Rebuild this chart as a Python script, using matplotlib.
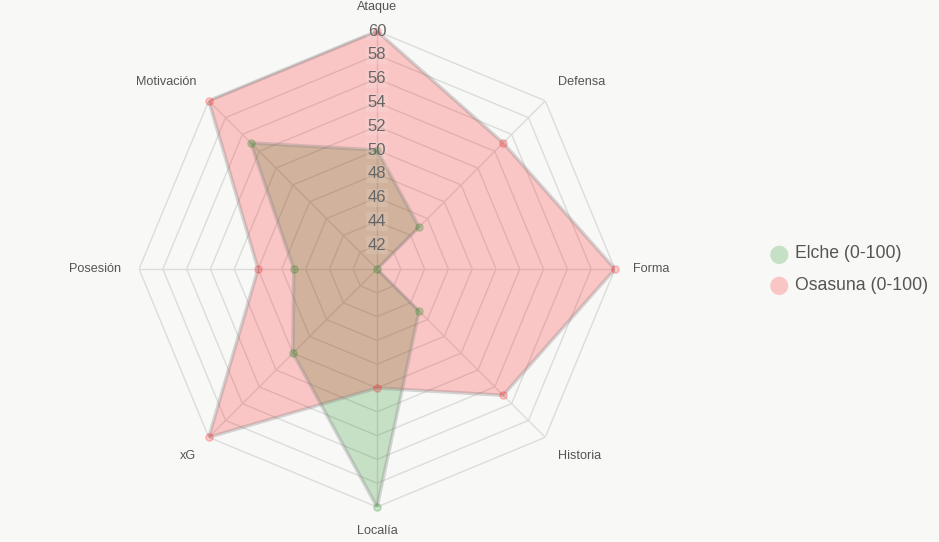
import numpy as np
import matplotlib.pyplot as plt

plt.rcParams['font.family'] = ['Liberation Sans', 'DejaVu Sans']

labels = ['Ataque', 'Defensa', 'Forma', 'Historia', 'Localía', 'xG', 'Posesión', 'Motivación']
elche = [50, 45, 40, 45, 60, 50, 47, 55]
osasuna = [60, 55, 60, 55, 50, 60, 50, 60]
ticks = [42, 44, 46, 48, 50, 52, 54, 56, 58, 60]
series_names = ['Elche (0-100)', 'Osasuna (0-100)']

bg = '#f8f8f7'
green = (0.0, 0.5, 0.0)
red = (1.0, 0.0, 0.0)

fig = plt.figure(figsize=(9.39, 5.42), dpi=100, facecolor=bg)
ax = fig.add_axes([0.148, 0.0646, 0.507, 0.878], projection='polar')
ax.set_facecolor(bg)
ax.set_theta_zero_location('N')
ax.set_theta_direction(-1)
ax.set_ylim(40, 60)
ax.set_xticks([])
ax.set_yticks([])
ax.grid(False)
ax.spines['polar'].set_visible(False)

n = len(labels)
angles = np.linspace(0, 2 * np.pi, n, endpoint=False)
ring_ang = np.append(angles, angles[0])

# octagon grid
for t in ticks:
    ax.plot(ring_ang, [t] * (n + 1), color='#dcdcdc', lw=1, zorder=1)
for a in angles:
    ax.plot([a, a], [40, 60], color='#dcdcdc', lw=1, zorder=1)

# series
for vals, col in [(elche, green), (osasuna, red)]:
    v = np.append(vals, vals[0])
    ax.fill(ring_ang, v, color=col, alpha=0.2, lw=0, zorder=2)
    ax.plot(ring_ang, v, color=(0.5, 0.5, 0.5, 0.3), lw=2.5, zorder=3)
    ax.scatter(angles, vals, s=28, color=col, alpha=0.2, zorder=4, clip_on=False)

# tick labels
for t in ticks:
    ax.text(0, t, str(t), ha='center', va='center', fontsize=12, color='#666666',
            zorder=5, bbox=dict(boxstyle='square,pad=0.1', fc=(1, 1, 1, 0.12), ec='none'))

# axis labels
for a, lab in zip(angles, labels):
    s, c = np.sin(a), np.cos(a)
    ha = 'center' if abs(s) < 0.1 else ('left' if s > 0 else 'right')
    va = 'center' if abs(c) < 0.1 else ('bottom' if c > 0 else 'top')
    ax.text(a, 61.5, lab, ha=ha, va=va, fontsize=9.1, color='#555555', clip_on=False)

# legend
for i, (name, col) in enumerate(zip(series_names, [green, red])):
    y = 1 - 254 / 542 - i * 31 / 542
    fig.text(779 / 939, y, '\u25CF', ha='center', va='center', fontsize=17,
             color=col, alpha=0.2, family='DejaVu Sans')
    fig.text(795 / 939, y, name, ha='left', va='center', fontsize=12.7, color='#555555')

fig.savefig('out.png', dpi=100, facecolor=bg)
